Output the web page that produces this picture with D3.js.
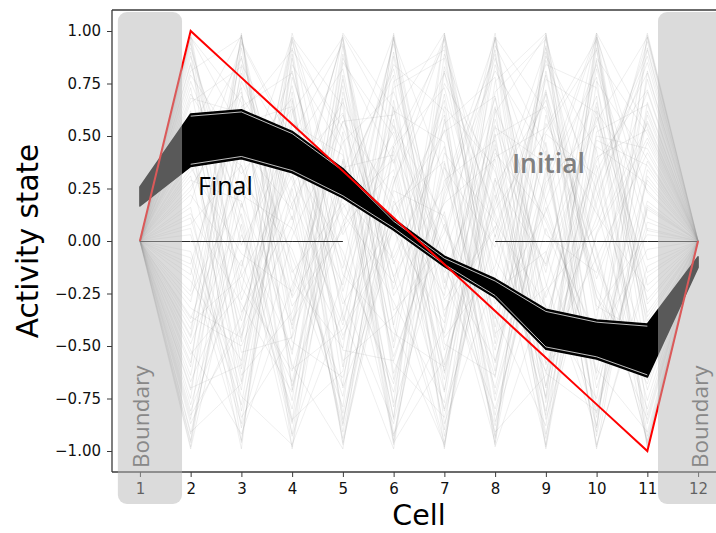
<!DOCTYPE html>
<html><head><meta charset="utf-8">
<script src="https://cdn.jsdelivr.net/npm/d3@7"></script>
<style>
html,body{margin:0;padding:0;background:#fff;}
svg{display:block;}
</style></head>
<body>
<svg id="chart" width="716" height="533"></svg>
<script>
// ---------- data ----------
const cells = [1,2,3,4,5,6,7,8,9,10,11,12];
const xTickLabels = ["1","2","3","4","5","6","7","8","9","10","11","12"];
const yTicks = [-1.0,-0.75,-0.5,-0.25,0,0.25,0.5,0.75,1.0];
const boundaryValue = 0;
// target (red) profile
const targetState = [0, 1.0, 0.778, 0.556, 0.333, 0.111, -0.111, -0.333, -0.556, -0.778, -1.0, 0];
// final states envelope (black band)
const finalUpper = [0.257, 0.605, 0.625, 0.522, 0.345, 0.105, -0.072, -0.18, -0.325, -0.376, -0.395, -0.075];
const finalLower = [0.167, 0.355, 0.392, 0.325, 0.205, 0.052, -0.122, -0.27, -0.515, -0.562, -0.648, -0.126];
// zero initial state (visible segments)
const zeroSegments = [[1,2,3,4,5],[8,9,10,11,12]];
// initial states: values (hundredths) at cells 2..11; cells 1 and 12 are boundaries (0)
const initialStates = [
[ 97,-34, 12,-88, 45, 73,-15,-62, 28, 91],[-45, 98,-71, 23, -9,-96, 54, 37,-82,  6],
[ 31,-67, 96, 48,-55, 14,-93, 81,-27,-58],[-92, 18,-40, 99, 63,-28,  7,-74, 95,-36],
[ 66, 83,-19,-51, 97,-63, 42, 11,-48, 77],[-13,-95, 57, 30,-84, 99,-21,-39, 64,-97],
[ 84,  5,-98, 71,-17, 26, 96,-53, -8, 42],[-71, 49, 33,-96,  8,-44, 61, 98,-66, 19],
[ 22,-12, 74,-35,-99, 58,-76, 25, 97,-83],[-58, 92,-27, 16, 39,-81,  3,-97, 52, 65],
[ 95,-61, 44, 82,-33, -7, 68,-20,-91, 98],[-37, 27,-85,-62, 76, 91,-49, 56, 13,-24],
[ 49,-89,  2, 57, 21,-59, 97,-44, 36,-71],[-96, 64, 80, -9,-68, 35, -3, 72,-57, 29],
[  8, 36,-54, 93,-41,-97, 29,-11, 86,-46],[ 73,-48, 97,-24, 55, 10,-65, 90,-33,  3],
[-24, 97,-13,-79, 88,-36, 51,-92,  4, 56],[ 58,-16,-67, 38,-97, 81,-30, 14, 69,-93],
[-83,-41, 26, 66, 14,-72, 93, 45,-99, 34],[ 40, 71,-93,-18, 62, 47,-86, -6, 59,-15],
[ -5,-78, 61, 97,-26, 18, 39,-69, 21, 85],[ 88, 22,  6,-47, 31,-90, 76, 99,-40,-62],
[-64, 55,-31,  5, 94,-13,-57, 32, 78,-99],[ 16,-99, 89,-70, -4, 67,-94, 60,-18, 47],
[-49, 13,-76, 85, 50,-52, 22,-83, 98, 11],[ 99,-28, 38, -5,-72, 42,  9,-31,-75, 60],
[-29, 80, 17,-91, 27, 96,-41, 71,-12,-80],[ 62,-53,-46, 26, 82,-23, 64,-98, 45, 27],
[-98, 39, 68,-57,-36,  4, 87, 19,-63, 92],[ 35, -6,-24, 74,-58,-84, 15, 52, 91,-30],
[-75, 95, 49,-30, 10, 60,-98,-24,  7, 71],[ 11,-71, 84, 43,-95, 29, 48,-58,-37, 97],
[ 79, 43,-59,-99, 67,-46,-12, 86, 24,-53],[-54,-24, 99, 13,-20, 75, 33,-45, 82, -9],
[ 26, 60, -8,-69, 99,-18,-80,  6,-55, 38],[-87,-35, 36, 61,-48, 98,  2, 79,-23,-68],
[ 53, 98,-38,  7, 34,-66, 58,-15, 99,-42],[-19,-57, 71,-85, 17, 38,-62, 93,-79, 15],
[ 92, 11,-92, 52,-79, -2, 99,-36, 40, 53],[-42, 76, 21,-40, 58,-93, 26, 67, -4,-96],
[  6,-84,-45, 89,-11, 53,-36,-88, 62, 24],[ 70, 32, 63,-27,-87, 22, 81, 41,-97,-17],
[-67, -9,-80, 35, 41,-62, 46,-99, 33, 80],[ 44, 87, 10, 97,-63,  8,-70, 28, 55,-38],
[-32,-46, 92,-60, 73, 87,-24, -5,-88, 66],[ 97, 52,-15, 18,-29,-77, 71, 96, 16,-76],
[-91,-68, 53,-13, 96, 31,-52, 47,-70,  9],[ 29, 19,-86, 79,-51, 64, 35,-75, 87, 51],
[-11, 69, 29,-45,  5,-39, 97, 62,-26,-85],[ 57,-96, 78,  3, 46, 93, -9,-50, 11, 99],
[-78,  3,-52, 68,-96,-56, 17, 84, 73,-21],[ 18, 94, 46,-82, 24, 12,-91,-64, 50, 44],
[ 85,-22,-62, 28, 79,-99, 63,  9,-46, -4],[-46, 45, 15, 96,-40, 70,-46, 97,-93, 31],
[  3,-74,-97,-34, 90,-20, 55,-27, 38, 72],[ 68, 61, 91, 54, -8, 45,-83, 16,-61,-91],
[-95, 29, -4,-74, 64,-71, 40, 54, 96,-49],[ 38,-38, 56, 41,-77, 83, 11,-81, 27, 88],
[-60, 99,-69,  9, 52, -8,-96, 35,-84, 16],[ 90,-81, 25,-94, 13, 52, 69,-70, 92,-59],
[-26, 25, 97, 64,-92,-41, 84,  3,-15, 57],[ 47,-64,-34, 32, 98,-87,-18, 77, 61,-34],
[-85, 84, 41,-52,-57, 19, 91,-59, 18, 95],[ 13,-30,-72, 87, 37, 97,-58, 43,-98,-12],
[ 76, 16, 81,-16,-44,-60, 30,-94, 76, 39],[-52,-92,-21, 47, 71,  6,-37, 88, 43,-87],
[ 33, 56, 64,-97, 19,-26, 97,-32,-52, 62],[-99,  8,-87, 22, 84, 62,-73, 20, 84,  5],
[ 60,-45, 18, 60,-17,-98, 50, 64,-11,-66],[-16, 88,-48,-65, 28, 80, 13,-47, 97, 23],
[ 94, -2, 50, 94,-66, 37,-97, 99,-31,-45],[-70,-59, 87,-38, 45,-15, 44,-12, 57, 97],
[ 24, 73,-99, 39,-85, 89, 24,-63,-81, 17],[-39,-17, 31,-21, 97,-49,-64, 51, 31,-98],
[ 81, 97,-42, 77,-23, 56, 78,-85,  3, 49],[ -8,-87, 67,-87, 43,-33,  6, 70,-89, 81],
[ 51, 36,-26, 57, 60, 99,-44,-22, 66,-28],[-81,-14, 95, 11,-93, 24, 89,-77, 48, 36],
[ 97, 66,-61,-42,  7,-80, 20, 92, -6,-95],[-36,-50,  7, 98, 54, -4,-88, 30, 99, 54]
];
const labelFinal = "Final";
const labelInitial = "Initial";
const labelBoundary = "Boundary";
const xTitle = "Cell";
const yTitle = "Activity state";

// ---------- layout ----------
const svg = d3.select("#chart");
const L = 112, R = 726, T = 10, B = 472;
const x = d3.scaleLinear().domain([0.45, 12.55]).range([L, R]);
const y = d3.scaleLinear().domain([-1.1, 1.1]).range([B, T]);
const spine = "#3a3a3a";
const tickFont = "DejaVu Sans, sans-serif";
const labelFont = "'Open Sans', 'Noto Sans', sans-serif";

const line = d3.line().x((d,i)=>x(cells[i])).y(d=>y(d));

// axes
const yAxis = d3.axisLeft(y).tickValues(yTicks).tickFormat(d3.format(".2f")).tickSize(5).tickPadding(6);
const gy = svg.append("g").attr("transform",`translate(${L},0)`).call(yAxis);
const xAxis = d3.axisBottom(x).tickValues(cells).tickFormat((d,i)=>xTickLabels[i]).tickSize(5).tickPadding(6);
const gx = svg.append("g").attr("transform",`translate(0,${B})`).call(xAxis);
[gx,gy].forEach(g=>{
  g.select(".domain").remove();
  g.selectAll(".tick line").attr("stroke",spine).attr("stroke-width",1);
  g.selectAll(".tick text").attr("fill","#111").style("font-family",tickFont).style("font-size","15px");
});
gy.selectAll(".tick text").text(d=>d3.format(".2f")(d).replace("-","\u2212"));

// initial states
const initG = svg.append("g");
initialStates.forEach(row=>{
  const vals = [boundaryValue, ...row.map(v=>v/100), boundaryValue];
  initG.append("path").attr("d",line(vals)).attr("fill","none")
    .attr("stroke","#7a7a7a").attr("stroke-opacity",0.15).attr("stroke-width",0.8);
});

// zero initial state
zeroSegments.forEach(seg=>{
  svg.append("path").attr("d",d3.line().x(c=>x(c)).y(()=>y(0)+0.5)(seg))
    .attr("fill","none").attr("stroke","#2a2a2a").attr("stroke-width",1);
});

// final band
const area = d3.area().x((d,i)=>x(cells[i])).y0((d,i)=>y(finalLower[i])).y1((d,i)=>y(finalUpper[i]));
svg.append("path").attr("d",area(finalUpper)).attr("fill","#000").attr("stroke","#000").attr("stroke-width",1.5).attr("stroke-linejoin","round");
const inner = d3.line().x((d,i)=>x(cells[i+1])).y(d=>y(d));
svg.append("path").attr("d",inner(finalUpper.slice(1,11))).attr("transform","translate(0,2.2)")
  .attr("fill","none").attr("stroke","#fff").attr("stroke-width",0.75);
svg.append("path").attr("d",inner(finalLower.slice(1,11))).attr("transform","translate(0,-2.2)")
  .attr("fill","none").attr("stroke","#fff").attr("stroke-width",0.75);

// target
svg.append("path").attr("d",line(targetState)).attr("fill","none")
  .attr("stroke","#ff0000").attr("stroke-width",2).attr("stroke-linejoin","miter");

// spines
svg.append("line").attr("x1",L).attr("x2",L).attr("y1",T).attr("y2",B).attr("stroke",spine).attr("stroke-width",1.3);
svg.append("line").attr("x1",L).attr("x2",R).attr("y1",B).attr("y2",B).attr("stroke",spine).attr("stroke-width",1.3);
svg.append("line").attr("x1",L).attr("x2",R).attr("y1",T).attr("y2",T).attr("stroke",spine).attr("stroke-width",1.3);

// boundary overlays
const boxTop = 12, boxBot = 504;
const boxes = [[0.566,1.83],[11.21,12.9]];
boxes.forEach(b=>{
  svg.append("rect").attr("x",x(b[0])).attr("y",boxTop).attr("width",x(b[1])-x(b[0])).attr("height",boxBot-boxTop)
    .attr("rx",9).attr("fill","#b6b6b6").attr("fill-opacity",0.49);
});
// Boundary labels
[[149,468],[708,468]].forEach(p=>{
  svg.append("text").attr("transform",`translate(${p[0]},${p[1]}) rotate(-90)`)
    .attr("text-anchor","start").style("font-family",labelFont).style("font-size","22.5px")
    .attr("fill","#888").text(labelBoundary);
});

// Final / Initial labels
svg.append("text").attr("x",198).attr("y",195).style("font-family",labelFont).style("font-size","25px")
  .style("font-weight",500).attr("fill","#000").text(labelFinal);
svg.append("text").attr("x",512).attr("y",173).style("font-family",labelFont).style("font-size","26.5px")
  .style("font-weight",600).attr("fill","#808080").text(labelInitial);

// axis titles
svg.append("text").attr("x",(L+R)/2).attr("y",525).attr("text-anchor","middle")
  .style("font-family",tickFont).style("font-size","28.5px").attr("fill","#000").text(xTitle);
svg.append("text").attr("transform",`translate(38,${(T+B)/2}) rotate(-90)`).attr("text-anchor","middle")
  .style("font-family",tickFont).style("font-size","29.5px").attr("fill","#000").text(yTitle);
</script>
</body></html>
